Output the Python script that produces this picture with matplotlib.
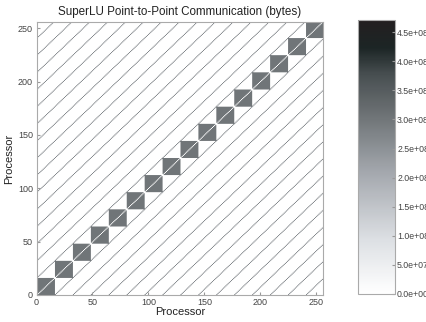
import numpy as np
import matplotlib
matplotlib.use("Agg")
import matplotlib.pyplot as plt
from matplotlib.colors import LinearSegmentedColormap

# ---- data ----
n_proc = 256
block_size = 16
block_bytes = 3.0e8        # within-block (diagonal 16x16 blocks) traffic
band_bytes = 2.7e8         # traffic on off-diagonal bands (offset multiples of 16)
self_bytes = 0.0           # main diagonal
vmin, vmax = 0.0, 4.71e8
x_ticks = [0, 50, 100, 150, 200, 250]
y_ticks = [0, 50, 100, 150, 200, 250]
cbar_ticks = [0.0, 5e7, 1e8, 1.5e8, 2e8, 2.5e8, 3e8, 3.5e8, 4e8, 4.5e8]
cbar_labels = ["0.0e+00", "5.0e+07", "1.0e+08", "1.5e+08", "2.0e+08",
               "2.5e+08", "3.0e+08", "3.5e+08", "4.0e+08", "4.5e+08"]

idx = np.arange(n_proc)
I, J = np.meshgrid(idx, idx, indexing="ij")
M = np.zeros((n_proc, n_proc))
M[(I // block_size) == (J // block_size)] = block_bytes
off = I - J
M[(off % block_size == 0) & (off != 0)] = band_bytes
M[I == J] = self_bytes

cmap = LinearSegmentedColormap.from_list("cb", [
    (0.00, "#ffffff"),
    (0.20, "#dcdfe3"),
    (0.45, "#a2a6ac"),
    (0.65, "#6e7376"),
    (0.80, "#484f51"),
    (0.90, "#1c2525"),
    (1.00, "#231f20"),
])

plt.rcParams['font.family'] = ['Liberation Sans', 'DejaVu Sans']
fig = plt.figure(figsize=(4.26, 3.22), dpi=100)
ax = fig.add_axes([0.0857, 0.0839, 0.6725, 0.848])
im = ax.imshow(M, origin="lower", cmap=cmap, vmin=vmin, vmax=vmax,
               extent=[0, n_proc, 0, n_proc], interpolation="antialiased",
               aspect="auto")
ax.set_xlim(0, n_proc)
ax.set_ylim(0, n_proc)
ax.set_xticks(x_ticks)
ax.set_yticks(y_ticks)
ax.tick_params(direction="in", length=2, labelsize=6.5, color="#999999",
               labelcolor="#444444", pad=2.5)
for s in ax.spines.values():
    s.set_color("#aaaaaa")
    s.set_linewidth(0.8)
ax.set_xlabel("Processor", fontsize=8, labelpad=0, color="#222222")
ax.set_ylabel("Processor", fontsize=8, labelpad=3, color="#222222")
ax.set_title("SuperLU Point-to-Point Communication (bytes)", fontsize=8.4,
             pad=5, color="#222222")

cax = fig.add_axes([0.8404, 0.087, 0.0869, 0.851])
cb = fig.colorbar(im, cax=cax)
cb.set_ticks(cbar_ticks)
cb.set_ticklabels(cbar_labels)
cax.tick_params(direction="in", length=2, labelsize=6.3, color="#999999",
                labelcolor="#444444", pad=1.5)
cb.outline.set_edgecolor("#aaaaaa")
cb.outline.set_linewidth(0.8)

fig.savefig("out.png", dpi=100)
